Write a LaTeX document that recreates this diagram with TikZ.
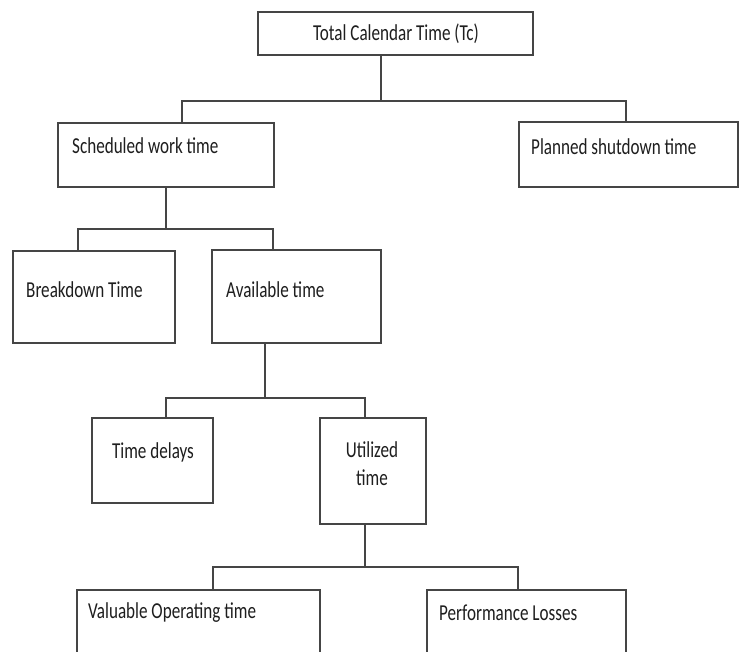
\documentclass[tikz,border=0pt]{standalone}
\usepackage{fontspec}
\setmainfont{Carlito}
\usetikzlibrary{positioning}

\definecolor{linegray}{HTML}{454545}
\definecolor{inkgray}{HTML}{1E1E1E}

\tikzset{
  box/.style={draw=linegray, line width=1.3pt, rectangle, inner sep=0pt, fill=white},
  lbl/.style={inner sep=0pt, text=inkgray, font=\fontsize{19}{23}\selectfont},
  link/.style={draw=linegray, line width=1.3pt}
}

% text set narrower and taller than its natural shape
\newcommand{\tall}[1]{\scalebox{0.9}[1.2]{#1}}

% place a box from its corner coordinates (left, top, right, bottom)
\newcommand{\boxat}[5]{%
  \node[box, minimum width={(#4-#2)*1pt}, minimum height={(#5-#3)*1pt}]
    (#1) at ({(#2+#4)/2},{(#3+#5)/2}) {};}

\begin{document}
\begin{tikzpicture}[x=1pt, y=-1pt]
  \clip (0,0) rectangle (739,651);
  \fill[white] (0,0) rectangle (739,651);

  % boxes
  \boxat{top}{258}{12}{533}{55}
  \boxat{sched}{58}{123}{274}{187}
  \boxat{plan}{519}{122}{738}{187}
  \boxat{brk}{13}{251}{175}{343}
  \boxat{avail}{212}{250}{381}{343}
  \boxat{delay}{92}{418}{213}{503}
  \boxat{util}{320}{418}{426}{524}
  \boxat{valop}{77}{590}{320}{665}
  \boxat{perf}{427}{590}{626}{665}

  % labels
  \node[lbl] (tTop) at (396,34) {\tall{Total Calendar Time (Tc)}};
  \node[lbl, anchor=west] (tSched) at (72,146) {\tall{Scheduled work time}};
  \node[lbl, anchor=west] (tPlan) at (531,147) {\tall{Planned shutdown time}};
  \node[lbl, anchor=west] (tBrk) at (26,290) {\tall{Breakdown Time}};
  \node[lbl, anchor=west] (tAvail) at (226,290) {\tall{Available time}};
  \node[lbl] (tDelay) at (153,452) {\tall{Time delays}};
  \node[lbl] (tUtilA) at (372,450) {\tall{Utilized}};
  \node[lbl] (tUtilB) at (372,478) {\tall{time}};
  \node[lbl, anchor=west] (tValop) at (88,613) {\tall{Valuable Operating time}};
  \node[lbl, anchor=west] (tPerf) at (439,613) {\tall{Performance Losses}};

  % junction points of the tree
  \coordinate (j1) at (381,101);
  \coordinate (j1a) at (182,101);
  \coordinate (j1b) at (626,101);
  \coordinate (j2) at (166,229);
  \coordinate (j2a) at (78,229);
  \coordinate (j2b) at (273,229);
  \coordinate (j3) at (265,398);
  \coordinate (j3a) at (166,398);
  \coordinate (j3b) at (365,398);
  \coordinate (j4) at (365,567);
  \coordinate (j4a) at (213,567);
  \coordinate (j4b) at (518,567);

  % connectors
  \draw[link] (top.south -| j1) -- (j1);
  \draw[link] (sched.north -| j1a) -- (j1a) -- (j1b) -- (plan.north -| j1b);

  \draw[link] (sched.south -| j2) -- (j2);
  \draw[link] (brk.north -| j2a) -- (j2a) -- (j2b) -- (avail.north -| j2b);

  \draw[link] (avail.south -| j3) -- (j3);
  \draw[link] (delay.north -| j3a) -- (j3a) -- (j3b) -- (util.north -| j3b);

  \draw[link] (util.south -| j4) -- (j4);
  \draw[link] (valop.north -| j4a) -- (j4a) -- (j4b) -- (perf.north -| j4b);
\end{tikzpicture}
\end{document}
